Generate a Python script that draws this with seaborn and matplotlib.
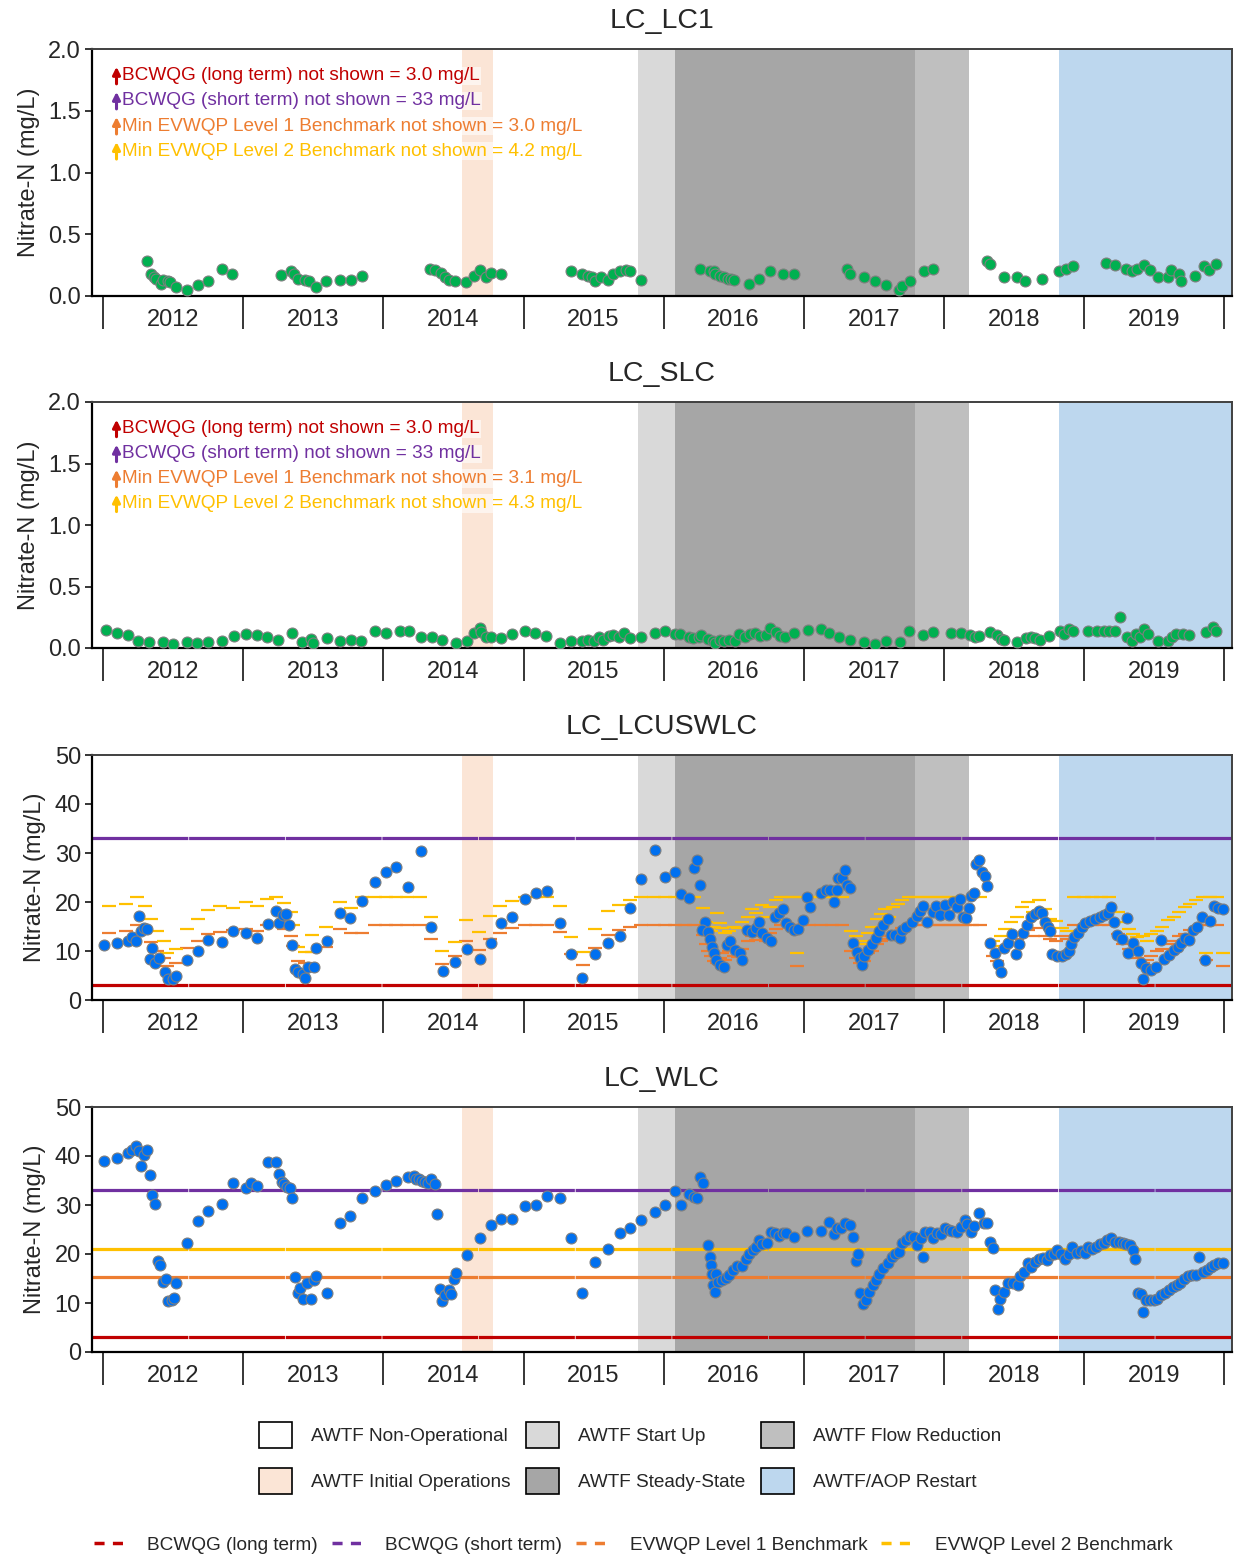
"""
Nitrate-N time series at four Line Creek stations with AWTF operating periods
"""

import numpy as np
import matplotlib
matplotlib.use("Agg")
import matplotlib.pyplot as plt
from matplotlib.patches import Patch
from matplotlib.lines import Line2D
import seaborn as sns

sns.set_theme(style="white")
plt.rcParams["font.family"] = ["Liberation Sans", "DejaVu Sans"]

# ---------------- DATA (decimal year, mg/L) ----------------
LC1_YEAR = [2012.31, 2012.34, 2012.36, 2012.38, 2012.41, 2012.43, 2012.46, 2012.48, 2012.52, 2012.60,
            2012.68, 2012.75, 2012.85, 2012.92, 2013.27, 2013.34, 2013.36, 2013.39, 2013.44, 2013.47,
            2013.52, 2013.59, 2013.69, 2013.77, 2013.85, 2014.33, 2014.37, 2014.41, 2014.44, 2014.47,
            2014.51, 2014.59, 2014.65, 2014.69, 2014.73, 2014.77, 2014.84, 2015.34, 2015.42, 2015.46,
            2015.49, 2015.51, 2015.55, 2015.60, 2015.64, 2015.69, 2015.73, 2015.76, 2015.84, 2016.26,
            2016.33, 2016.36, 2016.37, 2016.40, 2016.43, 2016.46, 2016.48, 2016.50, 2016.61, 2016.68,
            2016.76, 2016.85, 2016.93, 2017.31, 2017.33, 2017.43, 2017.51, 2017.59, 2017.68, 2017.70,
            2017.76, 2017.86, 2017.92, 2018.31, 2018.33, 2018.43, 2018.52, 2018.58, 2018.70, 2018.82,
            2018.87, 2018.92, 2019.16, 2019.22, 2019.30, 2019.34, 2019.38, 2019.43, 2019.47, 2019.53,
            2019.60, 2019.62, 2019.68, 2019.69, 2019.79, 2019.86, 2019.89, 2019.94]
LC1_NO3 = [0.28, 0.18, 0.15, 0.14, 0.10, 0.13, 0.12, 0.11, 0.07, 0.05,
           0.09, 0.12, 0.22, 0.18, 0.17, 0.20, 0.18, 0.14, 0.13, 0.12,
           0.07, 0.12, 0.13, 0.13, 0.16, 0.22, 0.21, 0.19, 0.15, 0.13,
           0.12, 0.11, 0.16, 0.21, 0.15, 0.19, 0.18, 0.20, 0.18, 0.16,
           0.15, 0.12, 0.15, 0.13, 0.18, 0.20, 0.21, 0.20, 0.13, 0.22,
           0.20, 0.20, 0.18, 0.16, 0.15, 0.14, 0.14, 0.13, 0.10, 0.14,
           0.20, 0.18, 0.18, 0.22, 0.18, 0.15, 0.12, 0.09, 0.05, 0.08,
           0.12, 0.20, 0.22, 0.28, 0.26, 0.15, 0.15, 0.12, 0.14, 0.20,
           0.22, 0.24, 0.27, 0.25, 0.22, 0.20, 0.22, 0.25, 0.21, 0.15,
           0.15, 0.21, 0.18, 0.12, 0.16, 0.24, 0.21, 0.26]

SLC_YEAR = [2012.02, 2012.10, 2012.18, 2012.25, 2012.33, 2012.43, 2012.50, 2012.60, 2012.67, 2012.75,
            2012.85, 2012.93, 2013.02, 2013.10, 2013.17, 2013.25, 2013.35, 2013.42, 2013.48, 2013.50,
            2013.60, 2013.69, 2013.77, 2013.84, 2013.94, 2014.02, 2014.12, 2014.18, 2014.27, 2014.35,
            2014.42, 2014.52, 2014.60, 2014.65, 2014.69, 2014.70, 2014.73, 2014.77, 2014.84, 2014.92,
            2015.01, 2015.08, 2015.16, 2015.26, 2015.34, 2015.42, 2015.46, 2015.50, 2015.54, 2015.57,
            2015.61, 2015.64, 2015.68, 2015.72, 2015.76, 2015.84, 2015.94, 2016.01, 2016.08, 2016.12,
            2016.18, 2016.21, 2016.25, 2016.27, 2016.32, 2016.35, 2016.37, 2016.40, 2016.43, 2016.47,
            2016.51, 2016.54, 2016.58, 2016.62, 2016.65, 2016.69, 2016.73, 2016.76, 2016.80, 2016.83,
            2016.87, 2016.93, 2017.03, 2017.12, 2017.18, 2017.25, 2017.33, 2017.43, 2017.51, 2017.59,
            2017.69, 2017.75, 2017.85, 2017.92, 2018.05, 2018.12, 2018.19, 2018.22, 2018.25, 2018.33,
            2018.38, 2018.41, 2018.43, 2018.52, 2018.59, 2018.62, 2018.65, 2018.69, 2018.75, 2018.83,
            2018.86, 2018.89, 2018.92, 2019.03, 2019.09, 2019.14, 2019.18, 2019.22, 2019.26, 2019.31,
            2019.34, 2019.37, 2019.40, 2019.43, 2019.46, 2019.53, 2019.60, 2019.63, 2019.66, 2019.71,
            2019.75, 2019.87, 2019.92, 2019.94]
SLC_NO3 = [0.146, 0.124, 0.103, 0.059, 0.046, 0.051, 0.032, 0.051, 0.038, 0.046,
           0.059, 0.095, 0.116, 0.105, 0.086, 0.065, 0.122, 0.049, 0.073, 0.038,
           0.081, 0.054, 0.065, 0.059, 0.135, 0.122, 0.141, 0.135, 0.092, 0.086,
           0.065, 0.038, 0.059, 0.122, 0.162, 0.132, 0.092, 0.092, 0.081, 0.116,
           0.135, 0.122, 0.100, 0.038, 0.059, 0.059, 0.068, 0.054, 0.092, 0.065,
           0.095, 0.108, 0.092, 0.119, 0.081, 0.092, 0.122, 0.135, 0.114, 0.114,
           0.086, 0.081, 0.092, 0.108, 0.073, 0.059, 0.038, 0.065, 0.054, 0.065,
           0.059, 0.114, 0.086, 0.114, 0.119, 0.100, 0.105, 0.162, 0.127, 0.100,
           0.086, 0.122, 0.149, 0.154, 0.119, 0.086, 0.065, 0.046, 0.032, 0.054,
           0.046, 0.135, 0.108, 0.127, 0.122, 0.122, 0.105, 0.092, 0.095, 0.132,
           0.105, 0.073, 0.065, 0.046, 0.078, 0.086, 0.081, 0.065, 0.095, 0.135,
           0.114, 0.154, 0.135, 0.141, 0.141, 0.135, 0.141, 0.135, 0.249, 0.086,
           0.054, 0.114, 0.092, 0.154, 0.114, 0.054, 0.054, 0.092, 0.114, 0.114,
           0.105, 0.127, 0.168, 0.141]

USW_YEAR = [2012.005, 2012.097, 2012.178, 2012.209, 2012.237, 2012.255, 2012.272, 2012.293, 2012.311, 2012.351,
            2012.331, 2012.369, 2012.400, 2012.440, 2012.466, 2012.497, 2012.522, 2012.598, 2012.675, 2012.751,
            2012.848, 2012.924, 2013.019, 2013.098, 2013.176, 2013.230, 2013.255, 2013.281, 2013.306, 2013.329,
            2013.350, 2013.367, 2013.393, 2013.426, 2013.439, 2013.464, 2013.502, 2013.520, 2013.597, 2013.688,
            2013.765, 2013.846, 2013.940, 2014.019, 2014.091, 2014.172, 2014.266, 2014.343, 2014.424, 2014.513,
            2014.595, 2014.687, 2014.768, 2014.839, 2014.916, 2015.010, 2015.089, 2015.165, 2015.259, 2015.341,
            2015.417, 2015.512, 2015.606, 2015.690, 2015.761, 2015.838, 2015.935, 2016.008, 2016.084, 2016.122,
            2016.179, 2016.220, 2016.239, 2016.258, 2016.293, 2016.274, 2016.315, 2016.334, 2016.347, 2016.361,
            2016.374, 2016.401, 2016.428, 2016.450, 2016.477, 2016.510, 2016.542, 2016.559, 2016.597, 2016.632,
            2016.659, 2016.681, 2016.705, 2016.740, 2016.767, 2016.795, 2016.822, 2016.849, 2016.876, 2016.903,
            2016.930, 2016.957, 2016.998, 2017.020, 2017.044, 2017.120, 2017.160, 2017.188, 2017.215, 2017.237,
            2017.248, 2017.275, 2017.296, 2017.310, 2017.329, 2017.350, 2017.378, 2017.399, 2017.413, 2017.432,
            2017.459, 2017.486, 2017.513, 2017.540, 2017.567, 2017.600, 2017.622, 2017.654, 2017.684, 2017.703,
            2017.730, 2017.771, 2017.806, 2017.833, 2017.852, 2017.879, 2017.920, 2017.947, 2017.974, 2018.009,
            2018.034, 2018.064, 2018.096, 2018.118, 2018.137, 2018.159, 2018.180, 2018.191, 2018.218, 2018.232,
            2018.254, 2018.273, 2018.292, 2018.308, 2018.332, 2018.362, 2018.386, 2018.408, 2018.430, 2018.457,
            2018.484, 2018.517, 2018.538, 2018.565, 2018.592, 2018.619, 2018.652, 2018.679, 2018.701, 2018.720,
            2018.741, 2018.755, 2018.774, 2018.810, 2018.842, 2018.869, 2018.891, 2018.910, 2018.932, 2018.956,
            2018.983, 2019.010, 2019.046, 2019.081, 2019.113, 2019.146, 2019.173, 2019.195, 2019.216, 2019.236,
            2019.271, 2019.304, 2019.317, 2019.352, 2019.384, 2019.406, 2019.425, 2019.444, 2019.479, 2019.515,
            2019.547, 2019.574, 2019.607, 2019.642, 2019.669, 2019.696, 2019.723, 2019.751, 2019.778, 2019.805,
            2019.840, 2019.867, 2019.900, 2019.927, 2019.960, 2019.995]
USW_NO3 = [11.2, 11.7, 12.1, 12.9, 12.1, 17.2, 14.0, 14.6, 14.4, 10.7,
           8.4, 7.5, 8.5, 5.8, 4.2, 4.2, 4.8, 8.2, 10.1, 12.3,
           11.8, 14.1, 13.7, 12.6, 15.5, 18.2, 15.8, 17.4, 17.6, 15.3,
           11.2, 6.3, 5.8, 5.3, 4.4, 6.8, 6.7, 10.6, 12.1, 17.7,
           16.8, 20.3, 24.0, 26.1, 27.1, 23.1, 30.4, 14.8, 6.0, 7.8,
           10.5, 8.4, 11.7, 15.7, 17.0, 20.6, 21.8, 22.3, 15.7, 9.4,
           4.4, 9.4, 11.7, 13.1, 18.7, 24.6, 30.6, 25.2, 26.2, 21.6,
           20.8, 27.0, 28.6, 23.5, 15.9, 14.3, 13.9, 12.4, 10.9, 9.5,
           8.2, 7.1, 6.7, 11.2, 12.1, 10.2, 9.5, 8.2, 14.3, 13.9,
           14.6, 16.0, 13.7, 12.6, 12.1, 17.0, 17.7, 18.5, 15.7, 15.0,
           14.3, 14.4, 16.3, 21.1, 18.9, 21.8, 22.5, 22.5, 19.9, 22.5,
           25.0, 24.8, 26.5, 23.5, 22.8, 11.6, 9.7, 8.5, 7.1, 9.0,
           10.2, 11.4, 12.6, 14.0, 15.3, 16.5, 13.3, 13.3, 12.6, 14.3,
           15.0, 16.0, 17.1, 18.2, 19.1, 16.0, 18.0, 19.1, 17.4, 19.4,
           17.4, 20.1, 18.9, 20.6, 17.0, 16.7, 18.7, 21.3, 21.8, 27.8,
           28.6, 26.2, 25.3, 23.3, 11.7, 9.5, 7.4, 5.8, 10.6, 11.7,
           13.5, 9.4, 11.4, 13.7, 15.3, 16.9, 17.6, 18.2, 17.7, 16.0,
           15.0, 14.0, 9.4, 9.0, 8.9, 9.4, 9.9, 11.4, 12.9, 13.7,
           15.0, 15.8, 16.2, 16.5, 17.0, 17.4, 17.8, 18.9, 16.0, 13.3,
           12.4, 16.7, 9.5, 11.6, 9.9, 7.5, 4.2, 6.5, 6.1, 6.7,
           12.3, 8.3, 9.2, 10.2, 10.9, 11.6, 12.6, 12.3, 14.3, 15.0,
           16.9, 8.2, 16.2, 19.1, 18.7, 18.5]

# EVWQP benchmarks at LC_LCUSWLC (hardness dependent), one dash per sample period
BM_YEAR = [2012.043, 2012.166, 2012.242, 2012.298, 2012.344, 2012.382, 2012.433, 2012.458, 2012.522, 2012.598,
           2012.675, 2012.751, 2012.835, 2012.929, 2013.019, 2013.095, 2013.171, 2013.235, 2013.291, 2013.340,
           2013.355, 2013.388, 2013.440, 2013.490, 2013.592, 2013.688, 2013.770, 2013.850, 2013.940, 2014.020,
           2014.090, 2014.170, 2014.260, 2014.337, 2014.419, 2014.513, 2014.592, 2014.681, 2014.763, 2014.834,
           2014.916, 2015.010, 2015.090, 2015.165, 2015.260, 2015.336, 2015.425, 2015.510, 2015.604, 2015.685,
           2015.761, 2015.840, 2015.930, 2016.010, 2016.080, 2016.150, 2016.220, 2016.280, 2016.300, 2016.320,
           2016.340, 2016.360, 2016.380, 2016.400, 2016.420, 2016.440, 2016.470, 2016.500, 2016.530, 2016.560,
           2016.600, 2016.630, 2016.660, 2016.700, 2016.730, 2016.760, 2016.800, 2016.840, 2016.880, 2016.920,
           2016.950, 2016.970, 2017.040, 2017.120, 2017.200, 2017.270, 2017.340, 2017.370, 2017.400, 2017.430,
           2017.460, 2017.490, 2017.520, 2017.550, 2017.580, 2017.610, 2017.640, 2017.670, 2017.700, 2017.750,
           2017.800, 2017.850, 2017.900, 2017.950, 2018.000, 2018.050, 2018.100, 2018.150, 2018.200, 2018.260,
           2018.350, 2018.380, 2018.410, 2018.440, 2018.480, 2018.520, 2018.560, 2018.600, 2018.640, 2018.680,
           2018.720, 2018.760, 2018.800, 2018.840, 2018.880, 2018.930, 2019.000, 2019.060, 2019.120, 2019.180,
           2019.240, 2019.280, 2019.320, 2019.350, 2019.380, 2019.420, 2019.450, 2019.480, 2019.520, 2019.560,
           2019.600, 2019.640, 2019.680, 2019.720, 2019.760, 2019.800, 2019.850, 2019.870, 2019.900, 2019.950,
           2019.990]
BM_L1 = [13.7, 14.0, 15.3, 13.6, 11.9, 10.1, 8.6, 6.9, 7.5, 10.6,
         12.0, 13.5, 13.8, 14.3, 14.5, 14.0, 15.3, 15.3, 14.5, 13.0,
         11.0, 8.0, 7.5, 9.7, 10.8, 14.5, 13.6, 13.6, 15.3, 15.3,
         15.3, 15.3, 15.3, 12.5, 7.4, 8.9, 12.0, 10.2, 12.5, 13.7,
         14.6, 15.3, 15.3, 15.3, 13.8, 9.4, 7.1, 10.6, 13.3, 14.2,
         15.0, 15.3, 15.3, 15.3, 15.3, 15.3, 15.3, 13.3, 11.5, 10.0,
         9.0, 8.0, 7.5, 8.6, 9.5, 8.2, 10.0, 9.0, 8.8, 10.5,
         12.0, 13.0, 12.3, 13.3, 12.0, 13.6, 14.4, 15.3, 15.3, 15.3,
         7.0, 15.3, 15.3, 15.3, 15.3, 15.3, 10.0, 8.5, 7.5, 8.0,
         9.5, 10.0, 11.5, 12.0, 13.0, 12.5, 13.5, 14.0, 14.6, 15.3,
         15.3, 15.3, 15.3, 15.3, 15.3, 15.3, 15.3, 15.3, 15.3, 15.3,
         9.0, 8.0, 10.0, 10.8, 11.5, 12.5, 13.5, 14.3, 13.0, 14.6,
         13.0, 12.5, 12.0, 13.0, 12.5, 15.3, 15.3, 15.3, 15.3, 15.3,
         13.5, 11.5, 10.5, 9.5, 8.5, 7.5, 8.2, 9.0, 10.0, 10.5,
         11.5, 12.0, 13.0, 13.5, 14.2, 14.6, 15.3, 8.2, 15.3, 15.3,
         7.0]
BM_L2 = [19.1, 19.5, 21.1, 19.1, 16.5, 14.1, 12.1, 9.5, 10.5, 14.5,
         16.5, 18.4, 19.1, 18.8, 20.0, 19.2, 20.6, 21.1, 19.7, 18.0,
         15.3, 10.9, 9.7, 13.3, 15.0, 19.9, 18.7, 21.1, 21.1, 21.1,
         21.1, 21.1, 21.1, 17.0, 10.0, 11.8, 16.3, 13.9, 17.2, 19.1,
         20.2, 21.1, 21.1, 21.1, 19.2, 12.9, 9.7, 14.5, 18.2, 19.4,
         20.4, 21.1, 21.1, 21.1, 21.1, 21.1, 21.1, 18.7, 16.0, 14.3,
         14.0, 15.0, 17.7, 15.7, 14.7, 13.6, 14.0, 15.0, 14.6, 16.0,
         17.0, 18.5, 17.7, 19.4, 17.0, 19.0, 20.4, 21.1, 21.1, 21.1,
         9.5, 21.1, 21.1, 21.1, 21.1, 21.1, 14.0, 13.0, 11.5, 12.0,
         13.7, 15.0, 16.5, 17.5, 18.6, 17.0, 19.0, 19.6, 20.4, 21.1,
         21.1, 21.1, 21.1, 21.1, 21.1, 21.1, 21.1, 21.1, 21.1, 21.1,
         12.0, 11.0, 13.0, 14.5, 16.0, 17.0, 19.0, 20.0, 18.0, 20.4,
         18.5, 16.5, 16.2, 14.7, 14.0, 21.1, 21.1, 21.1, 21.1, 21.1,
         18.0, 16.0, 14.4, 13.5, 12.8, 13.0, 12.0, 13.5, 14.0, 15.0,
         16.3, 17.0, 18.0, 19.0, 19.6, 20.4, 21.1, 9.5, 21.1, 21.1,
         9.5]

WLC_YEAR = [2012.005, 2012.097, 2012.178, 2012.209, 2012.237, 2012.255, 2012.272, 2012.293, 2012.311, 2012.331,
            2012.349, 2012.369, 2012.390, 2012.408, 2012.428, 2012.446, 2012.466, 2012.491, 2012.504, 2012.522,
            2012.598, 2012.675, 2012.751, 2012.848, 2012.924, 2013.019, 2013.057, 2013.098, 2013.176, 2013.230,
            2013.253, 2013.273, 2013.294, 2013.311, 2013.332, 2013.350, 2013.367, 2013.388, 2013.408, 2013.426,
            2013.452, 2013.485, 2013.502, 2013.520, 2013.597, 2013.688, 2013.765, 2013.846, 2013.940, 2014.019,
            2014.091, 2014.172, 2014.215, 2014.233, 2014.253, 2014.274, 2014.297, 2014.315, 2014.343, 2014.368,
            2014.381, 2014.401, 2014.419, 2014.440, 2014.465, 2014.483, 2014.503, 2014.518, 2014.595, 2014.687,
            2014.768, 2014.839, 2014.916, 2015.010, 2015.089, 2015.165, 2015.259, 2015.341, 2015.417, 2015.512,
            2015.606, 2015.690, 2015.761, 2015.838, 2015.935, 2016.008, 2016.084, 2016.122, 2016.179, 2016.220,
            2016.239, 2016.258, 2016.279, 2016.315, 2016.334, 2016.339, 2016.347, 2016.355, 2016.364, 2016.374,
            2016.388, 2016.415, 2016.442, 2016.469, 2016.496, 2016.523, 2016.559, 2016.586, 2016.613, 2016.640,
            2016.659, 2016.681, 2016.705, 2016.740, 2016.767, 2016.795, 2016.822, 2016.849, 2016.871, 2016.930,
            2017.025, 2017.123, 2017.180, 2017.215, 2017.237, 2017.264, 2017.296, 2017.329, 2017.350, 2017.372,
            2017.391, 2017.405, 2017.426, 2017.445, 2017.467, 2017.491, 2017.513, 2017.540, 2017.567, 2017.600,
            2017.627, 2017.654, 2017.681, 2017.703, 2017.730, 2017.757, 2017.784, 2017.811, 2017.838, 2017.852,
            2017.866, 2017.899, 2017.925, 2017.952, 2017.980, 2018.007, 2018.034, 2018.061, 2018.096, 2018.123,
            2018.150, 2018.169, 2018.191, 2018.218, 2018.254, 2018.286, 2018.305, 2018.332, 2018.354, 2018.362,
            2018.386, 2018.403, 2018.430, 2018.457, 2018.495, 2018.530, 2018.544, 2018.571, 2018.598, 2018.625,
            2018.652, 2018.679, 2018.706, 2018.733, 2018.760, 2018.787, 2018.808, 2018.835, 2018.862, 2018.891,
            2018.918, 2018.951, 2018.978, 2019.005, 2019.032, 2019.059, 2019.087, 2019.113, 2019.141, 2019.168,
            2019.195, 2019.222, 2019.249, 2019.276, 2019.303, 2019.330, 2019.349, 2019.363, 2019.384, 2019.406,
            2019.420, 2019.444, 2019.471, 2019.498, 2019.525, 2019.553, 2019.580, 2019.607, 2019.634, 2019.661,
            2019.688, 2019.715, 2019.743, 2019.770, 2019.797, 2019.818, 2019.851, 2019.878, 2019.905, 2019.932,
            2019.960, 2019.995]
WLC_NO3 = [38.9, 39.6, 40.6, 41.3, 42.0, 41.0, 37.9, 40.3, 41.2, 36.2,
           32.0, 30.3, 18.6, 17.7, 14.3, 15.0, 10.4, 10.7, 11.1, 14.0,
           22.3, 26.8, 28.8, 30.2, 34.4, 33.5, 34.4, 33.8, 38.7, 38.8,
           36.4, 34.7, 34.2, 33.7, 33.5, 31.5, 15.4, 12.0, 13.0, 10.9,
           14.1, 10.9, 14.7, 15.5, 12.0, 26.4, 27.7, 31.5, 32.9, 34.0,
           34.9, 35.7, 35.9, 35.4, 35.4, 35.0, 34.7, 34.5, 35.4, 34.2,
           28.1, 12.8, 10.5, 11.6, 12.6, 11.8, 14.8, 16.2, 19.8, 23.3,
           26.0, 27.1, 27.1, 29.7, 30.0, 31.9, 31.4, 23.3, 12.0, 18.3,
           21.0, 24.2, 25.3, 26.9, 28.5, 30.0, 32.9, 30.1, 32.3, 31.6,
           31.4, 35.7, 34.4, 21.8, 19.3, 17.7, 16.0, 13.7, 12.3, 16.0,
           14.3, 14.7, 15.2, 15.7, 16.8, 17.5, 17.5, 18.9, 20.0, 20.8,
           21.5, 22.8, 22.0, 22.3, 24.5, 24.2, 23.6, 24.3, 24.2, 23.4,
           24.7, 24.7, 26.6, 24.0, 25.3, 25.4, 26.4, 25.9, 23.4, 18.6,
           20.1, 12.1, 9.8, 10.7, 12.3, 13.7, 14.7, 15.9, 17.1, 18.1,
           19.4, 20.0, 20.4, 22.3, 22.8, 23.6, 23.5, 21.8, 23.2, 19.4,
           24.5, 24.5, 23.2, 24.3, 24.0, 25.4, 25.0, 24.7, 24.5, 25.5,
           26.9, 26.2, 24.5, 25.7, 28.4, 26.4, 26.4, 22.5, 21.3, 12.6,
           8.7, 10.9, 12.3, 14.0, 14.1, 13.7, 15.5, 16.4, 18.1, 17.4,
           18.4, 18.9, 19.1, 18.7, 19.8, 20.1, 20.8, 20.0, 18.9, 20.0,
           21.5, 20.2, 20.7, 20.2, 21.5, 21.1, 21.5, 22.0, 22.3, 22.8,
           23.2, 22.5, 22.5, 22.3, 22.1, 21.8, 20.8, 18.9, 12.0, 11.8,
           8.2, 10.6, 10.7, 10.6, 10.9, 11.6, 12.1, 12.6, 13.2, 13.7,
           14.1, 14.8, 15.5, 15.7, 15.7, 19.4, 16.4, 16.8, 17.4, 17.7,
           18.1, 18.1]

# guideline values (mg/L)
BCWQG_LONG = 3.0
BCWQG_SHORT = 33.0
WLC_L1 = 15.3
WLC_L2 = 21.0

# AWTF operating periods (decimal year)
PERIOD_NAMES = ["AWTF Non-Operational", "AWTF Initial Operations", "AWTF Start Up",
                "AWTF Steady-State", "AWTF Flow Reduction", "AWTF/AOP Restart"]
PERIOD_START = [None, 2014.56, 2015.82, 2016.08, 2017.795, 2018.825]
PERIOD_END = [None, 2014.785, 2016.08, 2017.795, 2018.18, 2020.2]
PERIOD_COLORS = ["#ffffff", "#fbe5d6", "#d9d9d9", "#a6a6a6", "#bfbfbf", "#bdd7ee"]

YEARS = list(range(2012, 2020))

NOTES_LC1 = ["BCWQG (long term) not shown = 3.0 mg/L",
             "BCWQG (short term) not shown = 33 mg/L",
             "Min EVWQP Level 1 Benchmark not shown = 3.0 mg/L",
             "Min EVWQP Level 2 Benchmark not shown = 4.2 mg/L"]
NOTES_SLC = ["BCWQG (long term) not shown = 3.0 mg/L",
             "BCWQG (short term) not shown = 33 mg/L",
             "Min EVWQP Level 1 Benchmark not shown = 3.1 mg/L",
             "Min EVWQP Level 2 Benchmark not shown = 4.3 mg/L"]

# ---------------- STYLE ----------------
RED, PURPLE, ORANGE, YELLOW = "#c00000", "#7030a0", "#ed7d31", "#ffc000"
GREEN, BLUE = "#00b050", "#0070f0"
GUIDE_COLORS = [RED, PURPLE, ORANGE, YELLOW]
XMIN, XMAX = 2011.92, 2020.057
TICK_FS = 17
W, H = 1236, 1557


def setup_axes(fig, top_px, bottom_px, title, ylim, yticks, yfmt):
    ax = fig.add_axes([92 / W, 1 - bottom_px / H, 1140 / W, (bottom_px - top_px) / H])
    for name, s, e, c in zip(PERIOD_NAMES, PERIOD_START, PERIOD_END, PERIOD_COLORS):
        if s is not None:
            ax.axvspan(s, e, color=c, lw=0, zorder=0)
    ax.set_xlim(XMIN, XMAX)
    ax.set_ylim(*ylim)
    ax.set_xticks(range(2012, 2021))
    ax.set_xticklabels([])
    ax.set_xticks([y + 0.5 for y in YEARS], minor=True)
    ax.set_xticklabels([str(y) for y in YEARS], minor=True, fontsize=TICK_FS)
    ax.tick_params(axis="x", which="major", bottom=True, length=24, width=1.1, color="black")
    ax.tick_params(axis="x", which="minor", bottom=True, length=0, pad=9)
    ax.set_yticks(yticks)
    ax.set_yticklabels([yfmt.format(v) for v in yticks], fontsize=TICK_FS)
    ax.tick_params(axis="y", left=True, length=5, width=1.1, color="black", pad=3)
    ax.set_ylabel("Nitrate-N (mg/L)", fontsize=TICK_FS, labelpad=6)
    ax.set_xlabel("")
    ax.set_title(title, fontsize=20.5, pad=15)
    for side in ["left", "bottom"]:
        ax.spines[side].set_color("black")
        ax.spines[side].set_linewidth(1.6)
    for side in ["top", "right"]:
        ax.spines[side].set_color("#404040")
        ax.spines[side].set_linewidth(1.4)
    return ax


def add_notes(ax, notes):
    for i, (txt, c) in enumerate(zip(notes, GUIDE_COLORS)):
        y = 0.891 - i * 0.1015
        # bold up-arrow in front of each note
        ax.annotate("", xy=(0.0215, y + 0.037), xytext=(0.0215, y - 0.032),
                    xycoords="axes fraction", textcoords="axes fraction", zorder=6,
                    arrowprops=dict(arrowstyle="-|>", color=c, lw=2.2,
                                    mutation_scale=11, shrinkA=0, shrinkB=0))
        ax.text(0.0265, y, txt, transform=ax.transAxes,
                color=c, fontsize=13.7, va="center", ha="left", zorder=5,
                bbox=dict(facecolor="white", alpha=0.6, edgecolor="none", pad=0.5))


def add_points(ax, x, y, color):
    sns.scatterplot(x=x, y=y, ax=ax, color=color, s=62, edgecolor="#7f7f7f",
                    linewidth=0.8, zorder=4, legend=False)


def guide_line(ax, value, color):
    ax.axhline(value, color=color, lw=2.3, dashes=(30, 0.25), zorder=2)


fig = plt.figure(figsize=(W / 100, H / 100), dpi=100)

# ---------------- LC_LC1 ----------------
ax1 = setup_axes(fig, 49, 296, "LC_LC1", (0, 2.0), [0, 0.5, 1.0, 1.5, 2.0], "{:.1f}")
add_points(ax1, LC1_YEAR, LC1_NO3, GREEN)
add_notes(ax1, NOTES_LC1)

# ---------------- LC_SLC ----------------
ax2 = setup_axes(fig, 402, 648, "LC_SLC", (0, 2.0), [0, 0.5, 1.0, 1.5, 2.0], "{:.1f}")
add_points(ax2, SLC_YEAR, SLC_NO3, GREEN)
add_notes(ax2, NOTES_SLC)

# ---------------- LC_LCUSWLC ----------------
ax3 = setup_axes(fig, 755, 1000, "LC_LCUSWLC", (0, 50), [0, 10, 20, 30, 40, 50], "{:d}")
guide_line(ax3, BCWQG_LONG, RED)
guide_line(ax3, BCWQG_SHORT, PURPLE)
bm_x = np.array(BM_YEAR)
ax3.hlines(BM_L1, bm_x - 0.05, bm_x + 0.05, colors=ORANGE, lw=1.6, zorder=2)
ax3.hlines(BM_L2, bm_x - 0.05, bm_x + 0.05, colors=YELLOW, lw=1.6, zorder=2)
add_points(ax3, USW_YEAR, USW_NO3, BLUE)

# ---------------- LC_WLC ----------------
ax4 = setup_axes(fig, 1107, 1352, "LC_WLC", (0, 50), [0, 10, 20, 30, 40, 50], "{:d}")
guide_line(ax4, BCWQG_LONG, RED)
guide_line(ax4, BCWQG_SHORT, PURPLE)
guide_line(ax4, WLC_L1, ORANGE)
guide_line(ax4, WLC_L2, YELLOW)
add_points(ax4, WLC_YEAR, WLC_NO3, BLUE)

# ---------------- LEGENDS ----------------
period_handles = [Patch(facecolor=c, edgecolor="black", linewidth=1.2) for c in PERIOD_COLORS]
fig.legend(period_handles, PERIOD_NAMES, ncol=3, loc="center",
           bbox_to_anchor=(630 / W, 1 - 1458 / H), frameon=False, fontsize=13.7,
           handlelength=1.75, handleheight=1.75, handletextpad=1.0,
           labelspacing=1.05, columnspacing=0.8)

line_labels = ["BCWQG (long term)", "BCWQG (short term)",
               "EVWQP Level 1 Benchmark", "EVWQP Level 2 Benchmark"]
line_handles = [Line2D([0], [0], color=c, lw=2.5, dashes=(2.9, 2.4)) for c in GUIDE_COLORS]
fig.legend(line_handles, line_labels, ncol=4, loc="center",
           bbox_to_anchor=(633 / W, 1 - 1545 / H), frameon=False, fontsize=13.7,
           handlelength=1.85, handletextpad=0.95, columnspacing=0.75)

fig.savefig("out.png", dpi=100)
